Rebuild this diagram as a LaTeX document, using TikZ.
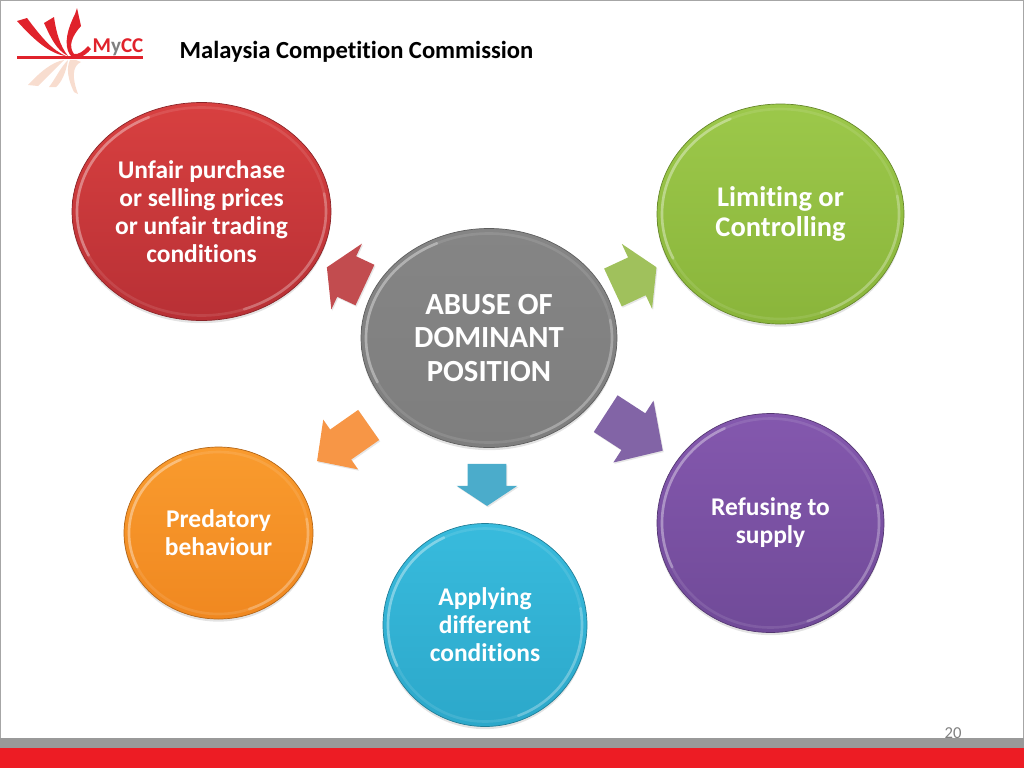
\documentclass[tikz,border=0pt]{standalone}
\usepackage{fontspec}
\setmainfont[Ligatures=NoCommon]{Carlito}
\usetikzlibrary{shapes.geometric,shapes.arrows,shadows}

\definecolor{logored}{HTML}{E0222B}
\definecolor{logopale}{HTML}{F8DDCF}
\definecolor{barred}{HTML}{ED1C24}
\definecolor{bargray}{HTML}{999999}
\definecolor{framegray}{HTML}{A6A6A6}
\definecolor{redA}{HTML}{D84040}\definecolor{redB}{HTML}{B83035}
\definecolor{greenA}{HTML}{9CC84A}\definecolor{greenB}{HTML}{8AB53B}
\definecolor{grayA}{HTML}{858585}\definecolor{grayB}{HTML}{7E7E7E}
\definecolor{orangeA}{HTML}{F99B2E}\definecolor{orangeB}{HTML}{F08820}
\definecolor{blueA}{HTML}{38BBDD}\definecolor{blueB}{HTML}{2CA8CA}
\definecolor{purpleA}{HTML}{8458AE}\definecolor{purpleB}{HTML}{704A98}
\definecolor{redP}{HTML}{C24C4F}
\definecolor{greenP}{HTML}{A0C15C}
\definecolor{purpleP}{HTML}{8264A6}
\definecolor{orangeP}{HTML}{F79646}
\definecolor{blueP}{HTML}{4BACCB}

\def\u{0.02cm}
\tikzset{
  disc/.style args={#1/#2/#3}{ellipse,inner sep=0pt,align=center,text=white,font=\bfseries\fontsize{14.5}{15.9}\selectfont,
    minimum width=#1*\u,minimum height=#2*\u,top color=#3A,bottom color=#3B,draw=#3B!75!black,line width=.4pt,
    drop shadow={shadow xshift=0pt,shadow yshift=-1.5pt,opacity=.22},
    path picture={
      \draw[white,opacity=.1,line width=1.5pt] (path picture bounding box.center) ellipse [x radius={(#1/2-5)*\u},y radius={(#2/2-5)*\u}];
      \draw[white,opacity=.3,line width=1.5pt,line cap=round] (path picture bounding box.center) ++(115:{(#1/2-5)*\u} and {(#2/2-5)*\u})
        arc [x radius={(#1/2-5)*\u},y radius={(#2/2-5)*\u},start angle=115,end angle=205];
      \draw[white,opacity=.22,line width=1.5pt,line cap=round] (path picture bounding box.center) ++(-70:{(#1/2-5)*\u} and {(#2/2-5)*\u})
        arc [x radius={(#1/2-5)*\u},y radius={(#2/2-5)*\u},start angle=-70,end angle=10];
    }},
  pointer/.style args={#1/#2/#3/#4}{single arrow,inner sep=0pt,minimum height=#1*\u,text height=#2*\u,text depth=0pt,text width=0pt,
    single arrow head extend=#3*\u,single arrow tip angle=#4,draw=none,
    drop shadow={shadow xshift=.6pt,shadow yshift=-.8pt,opacity=.2}},
  ribbon/.style={fill=logored,draw=none},
  reflect/.style={fill=logopale,draw=none}
}

\begin{document}
\begin{tikzpicture}[x=\u,y=-\u]
\useasboundingbox (0,0) rectangle (1024,768);

% slide frame and bottom bars
\draw[framegray,line width=1pt] (0,768) -- (0,0.5) -- (1023.5,0.5) -- (1023.5,768);
\fill[bargray] (0,738) rectangle (1024,748);
\fill[barred] (0,748) rectangle (1024,768);
\node (pagenum) at (953,733) [text=gray,font=\fontsize{9.5}{11}\selectfont] {20};

% logo
\fill[ribbon] (17,21) -- (27,18) .. controls (42,38) and (52,50) .. (66,56) .. controls (50,54) and (34,40) .. cycle;
\fill[ribbon] (44,23) -- (54,17) .. controls (56,32) and (60,46) .. (68,56) .. controls (56,50) and (50,36) .. cycle;
\fill[ribbon] (75,14) -- (77,8) -- (81,26) .. controls (72,36) and (68,46) .. (74,54) .. controls (78,55) and (84,51) .. (88,46) -- (91,49) .. controls (84,58) and (74,60) .. (70,55) .. controls (63,44) and (68,28) .. cycle;
\draw[logored,line width=1.2pt] (17,57.5) -- (143,57.5);
\fill[reflect] (28,85) .. controls (40,72) and (52,62) .. (64,60) .. controls (54,70) and (44,80) .. (38,86) -- cycle;
\fill[reflect] (49,87) .. controls (56,78) and (60,68) .. (68,60) .. controls (66,72) and (62,82) .. (56,87) -- cycle;
\fill[reflect] (70,60) .. controls (76,60) and (78,60) .. (81,62) .. controls (72,66) and (72,78) .. (78,94) -- (74,92) .. controls (68,80) and (66,68) .. cycle;
\node (mycc) at (118,47) [text=logored,font=\bfseries\fontsize{12}{14}\selectfont] {M\textcolor{gray}{y}CC};
\node (title) at (356.5,51.5) [font=\bfseries\fontsize{14}{17}\selectfont] {Malaysia Competition Commission};

% discs
\node[disc=256/219/gray,font=\bfseries\fontsize{17.5}{19.3}\selectfont] (abuse) at (489,338) {ABUSE OF\\DOMINANT\\POSITION};
\node[disc=259/218/red] (unfair) at (201.5,211.5) {Unfair purchase\\or selling prices\\or unfair trading\\conditions};
\node[disc=247/220/green,font=\bfseries\fontsize{16.2}{17}\selectfont] (limiting) at (780.5,214) {Limiting or\\Controlling};
\node[disc=227/219/purple] (refusing) at (770.5,523) {Refusing to\\supply};
\node[disc=189/172/orange] (predatory) at (218.5,533) {Predatory\\behaviour};
\node[disc=204/203/blue] (applying) at (485,625) {Applying\\different\\conditions};

% pointers between the discs
\node[pointer=42/44/14/118,fill=redP] (toUnfair) at (352,279) [rotate=155] {};
\node[pointer=48/41/15/118,fill=greenP] (toLimiting) at (629,280) [rotate=25] {};
\node[pointer=68/43/15/93,fill=purpleP] (toRefusing) at (625.5,426.5) [rotate=-33] {};
\node[pointer=63/36/12/93,fill=orangeP] (toPredatory) at (350,438) [rotate=215] {};
\node[pointer=42/38/11/113,fill=blueP] (toApplying) at (487,478.5) [rotate=-90] {};
\end{tikzpicture}
\end{document}
